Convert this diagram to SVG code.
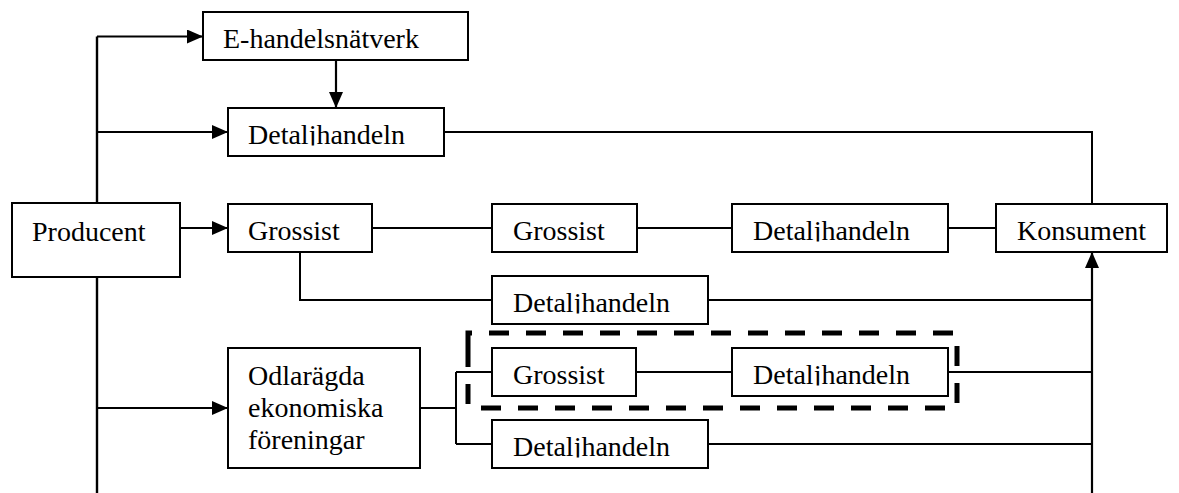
<svg xmlns="http://www.w3.org/2000/svg" width="1179" height="493" viewBox="0 0 1179 493">
  <style>
    .box { fill: #ffffff; stroke: #000000; stroke-width: 2; }
    .lbl { font-family: "Liberation Serif", "Times New Roman", serif; font-size: 28px; fill: #000000; }
    .wire { fill: none; stroke: #000000; stroke-width: 2; }
    .arrow { fill: none; stroke: #000000; stroke-width: 2.2; marker-end: url(#head); }
    .trunk { fill: none; stroke: #000000; stroke-width: 2.4; }
    .group-frame { fill: none; stroke: #000000; stroke-width: 5; stroke-dasharray: 20 17; stroke-linejoin: miter; }
  </style>
  <defs>
    <marker id="head" viewBox="0 0 16 14" refX="16" refY="7" markerWidth="16" markerHeight="14" markerUnits="userSpaceOnUse" orient="auto">
      <path d="M0,0 L16,7 L0,14 Z" fill="#000000"/>
    </marker>
    <!-- the retail labels are cut just under the baseline, so the j descender is hidden -->
    <clipPath id="cut-descender">
      <rect x="228" y="108" width="216" height="37.5"/>
      <rect x="492" y="276" width="216" height="37.5"/>
      <rect x="732" y="204" width="216" height="37.5"/>
      <rect x="492" y="420" width="216" height="37.5"/>
      <rect x="732" y="348" width="216" height="37.5"/>
    </clipPath>
  </defs>
  <rect x="0" y="0" width="1179" height="493" fill="#ffffff"/>

  <g id="connectors">
    <!-- producer trunk -->
    <path class="trunk" d="M97,36.5 V493"/>
    <path class="arrow" d="M97,36.5 H203"/>
    <path class="arrow" d="M97,132 H228"/>
    <path class="arrow" d="M97,408 H228"/>
    <path class="arrow" d="M180,228 H228"/>
    <path class="arrow" d="M336,60 V108"/>
    <!-- retail from e-commerce -->
    <path class="wire" d="M444,132 H1092 V204"/>
    <!-- wholesaler chain -->
    <path class="wire" d="M372,228 H492"/>
    <path class="wire" d="M637,228 H732"/>
    <path class="wire" d="M948,228 H996"/>
    <path class="wire" d="M300,252 V300 H492"/>
    <path class="wire" d="M708,300 H1092"/>
    <!-- collector into consumer -->
    <path class="arrow" d="M1092,493 V252"/>
    <!-- cooperative branches -->
    <path class="wire" d="M420,408 H456"/>
    <path class="wire" d="M456,372 V444"/>
    <path class="wire" d="M456,372 H492"/>
    <path class="wire" d="M456,444 H492"/>
    <path class="wire" d="M636,372 H732"/>
    <path class="wire" d="M948,372 H1092"/>
    <path class="wire" d="M708,444 H1092"/>
  </g>

  <g id="producent">
    <rect class="box" x="12" y="203" width="168" height="74"/>
    <text class="lbl" x="32" y="240.5">Producent</text>
  </g>

  <g id="e-handel">
    <rect class="box" x="203" y="12" width="265" height="48"/>
    <text class="lbl" x="223" y="48">E-handelsnätverk</text>
  </g>

  <g id="detalj-1">
    <rect class="box" x="228" y="108" width="216" height="48"/>
    <text class="lbl" x="248" y="144" clip-path="url(#cut-descender)">Detaljhandeln</text>
  </g>

  <g id="grossist-1">
    <rect class="box" x="228" y="204" width="144" height="48"/>
    <text class="lbl" x="248" y="240">Grossist</text>
  </g>

  <g id="grossist-2">
    <rect class="box" x="492" y="204" width="145" height="48"/>
    <text class="lbl" x="513" y="240">Grossist</text>
  </g>

  <g id="detalj-3">
    <rect class="box" x="732" y="204" width="216" height="48"/>
    <text class="lbl" x="753" y="240" clip-path="url(#cut-descender)">Detaljhandeln</text>
  </g>

  <g id="konsument">
    <rect class="box" x="996" y="204" width="171" height="48"/>
    <text class="lbl" x="1017" y="240">Konsument</text>
  </g>

  <g id="detalj-2">
    <rect class="box" x="492" y="276" width="216" height="48"/>
    <text class="lbl" x="513" y="312" clip-path="url(#cut-descender)">Detaljhandeln</text>
  </g>

  <g id="odlaragda">
    <rect class="box" x="228" y="348" width="192" height="120"/>
    <text class="lbl" x="248" y="385">Odlarägda</text>
    <text class="lbl" x="248" y="417">ekonomiska</text>
    <text class="lbl" x="248" y="449">föreningar</text>
  </g>

  <g id="grossist-3">
    <rect class="box" x="492" y="348" width="144" height="48"/>
    <text class="lbl" x="513" y="384">Grossist</text>
  </g>

  <g id="detalj-5">
    <rect class="box" x="732" y="348" width="216" height="48"/>
    <text class="lbl" x="753" y="384" clip-path="url(#cut-descender)">Detaljhandeln</text>
  </g>

  <g id="detalj-4">
    <rect class="box" x="492" y="420" width="216" height="48"/>
    <text class="lbl" x="513" y="456" clip-path="url(#cut-descender)">Detaljhandeln</text>
  </g>

  <g id="chain-frame">
    <!-- dashed frame around the wholesaler/retail pair, traced from the left edge -->
    <path class="group-frame" d="M468,349 V333 H957 V408 H468 Z"/>
  </g>
</svg>
